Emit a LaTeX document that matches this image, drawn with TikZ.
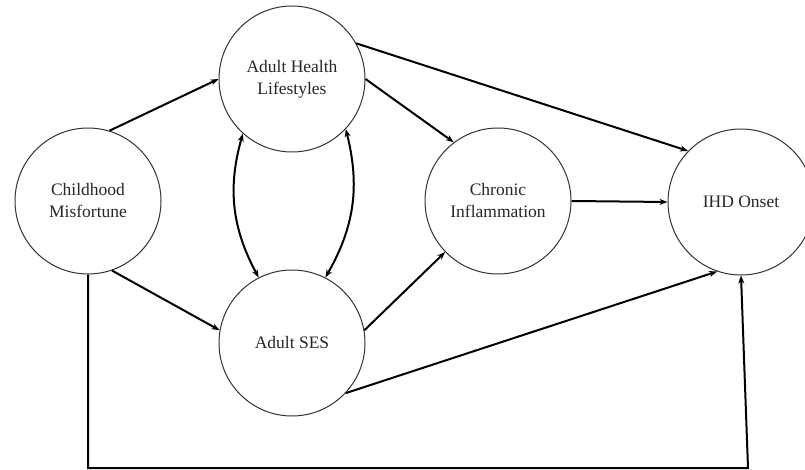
\documentclass[tikz,border=0pt]{standalone}
\usepackage{fontspec}
\setmainfont{Liberation Serif}
\usetikzlibrary{arrows.meta}
\tikzset{
  circ/.style={circle,draw=black!80,line width=1pt,minimum size=146pt,inner sep=0pt,align=center,
    font=\fontsize{17.5}{22}\selectfont,text=black!85},
  link/.style={line width=2pt,-{Stealth[length=8pt,width=6pt]}},
  both/.style={line width=2pt,{Stealth[length=8pt,width=6pt]}-{Stealth[length=8pt,width=6pt]}}
}
\begin{document}
\begin{tikzpicture}[x=1pt,y=-1pt]
   \useasboundingbox (0,0) rectangle (805,470);
   \foreach \name/\x/\y/\txt in {child/88/201/{Childhood\\Misfortune}, health/292/79/{Adult Health\\Lifestyles}, ses/292/343/{Adult SES}, chronic/498/201/{Chronic\\Inflammation}, ihd/741/202/{IHD Onset}}
   {
       \node[circ] (\name) at (\x,\y) {\txt};
   }
   \draw[link] (child.73) -- (health.180);
   \draw[link] (child.-71) -- (ses.170);
   \draw[both] (health.-132) to[bend right=22] (ses.117);
   \draw[both] (health.-43) to[bend left=22] (ses.63);
   \draw[link] (health.29) -- (ihd.136);
   \draw[link] (health.0) -- (chronic.127);
   \draw[link] (ses.10) -- (chronic.-136);
   \draw[link] (ses.-43) -- (ihd.-109);
   \draw[link] (chronic.east) -- (ihd.west);
   \coordinate (c1) at (88,468);
   \coordinate (c2) at (748,468);
   \draw[link] (child.south) -- (c1) -- (c2) -- (ihd.south);
\end{tikzpicture}
\end{document}
